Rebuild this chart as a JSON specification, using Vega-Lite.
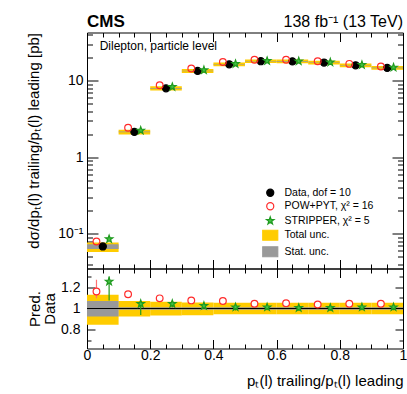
{
  "$schema": "https://vega.github.io/schema/vega-lite/v6.json",
  "background": "white",
  "padding": {"left": 26, "top": 11.5, "right": 0, "bottom": 0},
  "bounds": "flush",
  "config": {
    "font": "Liberation Sans",
    "view": {"stroke": "black", "strokeWidth": 1},
    "axis": {"domain": false, "grid": false, "labelFont": "Liberation Sans", "labelFontSize": 14, "labelColor": "black", "tickColor": "black", "tickWidth": 1, "titleFont": "Liberation Sans", "titleFontSize": 15, "titleFontWeight": "normal", "titleColor": "black", "labelFlush": false, "labelOverlap": false},
    "legend": {"labelFont": "Liberation Sans", "labelFontSize": 10.5, "labelColor": "black", "symbolStrokeWidth": 1.2, "symbolSize": 50, "labelOffset": 9, "rowPadding": 0.5, "padding": 0}
  },
  "datasets": {
    "bins": [
      {"lo": 0.0, "hi": 0.1, "xc": 0.05, "xp": 0.03, "xs": 0.07, "data": 0.068, "tot_lo": 0.0577, "tot_hi": 0.0768, "stat_lo": 0.0628, "stat_hi": 0.0728, "pow": 0.079, "strip": 0.085, "r_tot_lo": 0.848, "r_tot_hi": 1.13, "r_stat_lo": 0.924, "r_stat_hi": 1.07, "r_pow": 1.16, "r_pow_lo": 1.095, "r_pow_hi": 1.27, "r_strip": 1.253, "r_strip_lo": 1.076, "r_strip_hi": 1.3},
      {"lo": 0.1, "hi": 0.2, "xc": 0.15, "xp": 0.13, "xs": 0.17, "data": 2.15, "tot_lo": 1.99, "tot_hi": 2.30, "stat_lo": 2.124, "stat_hi": 2.176, "pow": 2.44, "strip": 2.24, "r_tot_lo": 0.925, "r_tot_hi": 1.07, "r_stat_lo": 0.988, "r_stat_hi": 1.012, "r_pow": 1.133, "r_pow_lo": 1.118, "r_pow_hi": 1.148, "r_strip": 1.044, "r_strip_lo": 0.94, "r_strip_hi": 1.07},
      {"lo": 0.2, "hi": 0.3, "xc": 0.25, "xp": 0.23, "xs": 0.27, "data": 8.0, "tot_lo": 7.48, "tot_hi": 8.5, "stat_lo": 7.92, "stat_hi": 8.08, "pow": 8.76, "strip": 8.35, "r_tot_lo": 0.935, "r_tot_hi": 1.063, "r_stat_lo": 0.988, "r_stat_hi": 1.012, "r_pow": 1.095, "r_pow_lo": 1.081, "r_pow_hi": 1.109, "r_strip": 1.044, "r_strip_lo": 1.012, "r_strip_hi": 1.076},
      {"lo": 0.3, "hi": 0.4, "xc": 0.35, "xp": 0.33, "xs": 0.37, "data": 13.5, "tot_lo": 12.65, "tot_hi": 14.27, "stat_lo": 13.38, "stat_hi": 13.62, "pow": 14.5, "strip": 13.85, "r_tot_lo": 0.937, "r_tot_hi": 1.057, "r_stat_lo": 0.988, "r_stat_hi": 1.012, "r_pow": 1.076, "r_pow_lo": 1.063, "r_pow_hi": 1.089, "r_strip": 1.025, "r_strip_lo": 0.995, "r_strip_hi": 1.055},
      {"lo": 0.4, "hi": 0.5, "xc": 0.45, "xp": 0.43, "xs": 0.47, "data": 16.5, "tot_lo": 15.6, "tot_hi": 17.4, "stat_lo": 16.35, "stat_hi": 16.65, "pow": 17.65, "strip": 16.7, "r_tot_lo": 0.945, "r_tot_hi": 1.055, "r_stat_lo": 0.988, "r_stat_hi": 1.012, "r_pow": 1.07, "r_pow_lo": 1.058, "r_pow_hi": 1.082, "r_strip": 1.012, "r_strip_lo": 0.982, "r_strip_hi": 1.042},
      {"lo": 0.5, "hi": 0.6, "xc": 0.55, "xp": 0.53, "xs": 0.57, "data": 18.1, "tot_lo": 17.1, "tot_hi": 19.1, "stat_lo": 17.93, "stat_hi": 18.27, "pow": 18.9, "strip": 18.3, "r_tot_lo": 0.945, "r_tot_hi": 1.055, "r_stat_lo": 0.988, "r_stat_hi": 1.012, "r_pow": 1.044, "r_pow_lo": 1.033, "r_pow_hi": 1.055, "r_strip": 1.012, "r_strip_lo": 0.984, "r_strip_hi": 1.04},
      {"lo": 0.6, "hi": 0.7, "xc": 0.65, "xp": 0.63, "xs": 0.67, "data": 18.0, "tot_lo": 17.0, "tot_hi": 19.0, "stat_lo": 17.83, "stat_hi": 18.17, "pow": 18.9, "strip": 18.1, "r_tot_lo": 0.945, "r_tot_hi": 1.055, "r_stat_lo": 0.988, "r_stat_hi": 1.012, "r_pow": 1.05, "r_pow_lo": 1.039, "r_pow_hi": 1.061, "r_strip": 1.006, "r_strip_lo": 0.978, "r_strip_hi": 1.034},
      {"lo": 0.7, "hi": 0.8, "xc": 0.75, "xp": 0.73, "xs": 0.77, "data": 17.4, "tot_lo": 16.45, "tot_hi": 18.35, "stat_lo": 17.24, "stat_hi": 17.56, "pow": 18.06, "strip": 17.5, "r_tot_lo": 0.945, "r_tot_hi": 1.055, "r_stat_lo": 0.988, "r_stat_hi": 1.012, "r_pow": 1.038, "r_pow_lo": 1.027, "r_pow_hi": 1.049, "r_strip": 1.006, "r_strip_lo": 0.978, "r_strip_hi": 1.034},
      {"lo": 0.8, "hi": 0.9, "xc": 0.85, "xp": 0.83, "xs": 0.87, "data": 16.0, "tot_lo": 15.12, "tot_hi": 16.88, "stat_lo": 15.85, "stat_hi": 16.15, "pow": 16.7, "strip": 16.2, "r_tot_lo": 0.945, "r_tot_hi": 1.055, "r_stat_lo": 0.988, "r_stat_hi": 1.012, "r_pow": 1.044, "r_pow_lo": 1.033, "r_pow_hi": 1.055, "r_strip": 1.012, "r_strip_lo": 0.984, "r_strip_hi": 1.04},
      {"lo": 0.9, "hi": 1.0, "xc": 0.95, "xp": 0.93, "xs": 0.97, "data": 14.8, "tot_lo": 13.99, "tot_hi": 15.61, "stat_lo": 14.66, "stat_hi": 14.94, "pow": 15.45, "strip": 15.0, "r_tot_lo": 0.945, "r_tot_hi": 1.055, "r_stat_lo": 0.988, "r_stat_hi": 1.012, "r_pow": 1.044, "r_pow_lo": 1.033, "r_pow_hi": 1.055, "r_strip": 1.012, "r_strip_lo": 0.984, "r_strip_hi": 1.04}
    ],
    "labels": [
      {"cms": "CMS", "lumi": "138 fb⁻¹ (13 TeV)", "info": "Dilepton, particle level"}
    ]
  },
  "resolve": {"scale": {"fill": "independent", "stroke": "independent", "shape": "independent"}},
  "spacing": 0,
  "vconcat": [
    {
      "width": 316,
      "height": 236,
      "data": {"name": "bins"},
      "resolve": {"axis": {"x": "independent", "y": "independent"}},
      "layer": [
        {
          "mark": {"type": "rect", "clip": true},
          "encoding": {
            "x": {"field": "lo", "type": "quantitative", "scale": {"domain": [0, 1], "nice": false, "zero": false},
              "axis": {"orient": "bottom", "values": [0, 0.05, 0.1, 0.15, 0.2, 0.25, 0.3, 0.35, 0.4, 0.45, 0.5, 0.55, 0.6, 0.65, 0.7, 0.75, 0.8, 0.85, 0.9, 0.95, 1], "labels": false, "title": null,
                "tickSize": {"condition": {"test": "abs(datum.value*5-round(datum.value*5))<0.001", "value": -9}, "value": -4.5}}},
            "x2": {"field": "hi"},
            "y": {"field": "tot_lo", "type": "quantitative", "scale": {"type": "log", "domain": [0.035, 43], "nice": false},
              "axis": {"orient": "left", "values": [0.04, 0.05, 0.06, 0.07, 0.08, 0.09, 0.1, 0.2, 0.3, 0.4, 0.5, 0.6, 0.7, 0.8, 0.9, 1, 2, 3, 4, 5, 6, 7, 8, 9, 10, 20, 30, 40],
                "labelExpr": "datum.value == 10 ? '10' : datum.value == 1 ? '1' : datum.value == 0.1 ? '10⁻¹' : ''",
                "labelPadding": 15,
                "tickSize": {"condition": {"test": "datum.value == 0.1 || datum.value == 1 || datum.value == 10", "value": -11}, "value": -5.5},
                "title": "dσ/dpₜ(l) trailing/pₜ(l) leading [pb]", "titleAnchor": "end", "titlePadding": 16}},
            "y2": {"field": "tot_hi"},
            "fill": {"datum": "Total unc.", "type": "nominal",
              "scale": {"domain": ["Data, dof = 10", "POW+PYT, χ² = 16", "STRIPPER, χ² = 5", "Total unc.", "Stat. unc."], "range": ["black", "transparent", "#44c444", "#ffcc00", "#999999"]},
              "legend": {"title": null, "orient": "none", "legendX": 178, "legendY": 155}}
          }
        },
        {
          "mark": {"type": "rect", "clip": true},
          "encoding": {
            "x": {"field": "lo", "type": "quantitative", "axis": null},
            "x2": {"field": "hi"},
            "y": {"field": "stat_lo", "type": "quantitative", "axis": null},
            "y2": {"field": "stat_hi"},
            "fill": {"datum": "Stat. unc.", "type": "nominal",
              "scale": {"domain": ["Data, dof = 10", "POW+PYT, χ² = 16", "STRIPPER, χ² = 5", "Total unc.", "Stat. unc."], "range": ["black", "transparent", "#44c444", "#ffcc00", "#999999"]},
              "legend": {"title": null, "orient": "none", "legendX": 178, "legendY": 155}}
          }
        },
        {
          "mark": {"type": "rule", "color": "black", "strokeWidth": 1, "clip": true},
          "encoding": {
            "x": {"field": "xc", "type": "quantitative",
              "axis": {"orient": "top", "values": [0, 0.05, 0.1, 0.15, 0.2, 0.25, 0.3, 0.35, 0.4, 0.45, 0.5, 0.55, 0.6, 0.65, 0.7, 0.75, 0.8, 0.85, 0.9, 0.95, 1], "labels": false, "title": null,
                "tickSize": {"condition": {"test": "abs(datum.value*5-round(datum.value*5))<0.001", "value": -9}, "value": -4.5}}},
            "y": {"field": "stat_lo", "type": "quantitative",
              "axis": {"orient": "right", "values": [0.04, 0.05, 0.06, 0.07, 0.08, 0.09, 0.1, 0.2, 0.3, 0.4, 0.5, 0.6, 0.7, 0.8, 0.9, 1, 2, 3, 4, 5, 6, 7, 8, 9, 10, 20, 30, 40], "labels": false, "title": null,
                "tickSize": {"condition": {"test": "datum.value == 0.1 || datum.value == 1 || datum.value == 10", "value": -11}, "value": -5.5}}},
            "y2": {"field": "stat_hi"}
          }
        },
        {
          "mark": {"type": "point", "opacity": 1, "strokeWidth": 1.2, "size": 50, "clip": true},
          "encoding": {
            "x": {"field": "xc", "type": "quantitative", "axis": null},
            "y": {"field": "data", "type": "quantitative", "axis": null},
            "fill": {"datum": "Data, dof = 10", "type": "nominal",
              "scale": {"domain": ["Data, dof = 10", "POW+PYT, χ² = 16", "STRIPPER, χ² = 5", "Total unc.", "Stat. unc."], "range": ["black", "transparent", "#44c444", "#ffcc00", "#999999"]},
              "legend": {"title": null, "orient": "none", "legendX": 178, "legendY": 155}},
            "stroke": {"datum": "Data, dof = 10", "type": "nominal",
              "scale": {"domain": ["Data, dof = 10", "POW+PYT, χ² = 16", "STRIPPER, χ² = 5", "Total unc.", "Stat. unc."], "range": ["black", "#ff2a2a", "#1f9a1f", "#ffcc00", "#999999"]},
              "legend": {"title": null, "orient": "none", "legendX": 178, "legendY": 155}},
            "shape": {"datum": "Data, dof = 10", "type": "nominal",
              "scale": {"domain": ["Data, dof = 10", "POW+PYT, χ² = 16", "STRIPPER, χ² = 5", "Total unc.", "Stat. unc."], "range": ["circle", "circle", "M0,-1.1L0.259,-0.356L1.046,-0.34L0.418,0.136L0.647,0.89L0,0.44L-0.647,0.89L-0.418,0.136L-1.046,-0.34L-0.259,-0.356Z", "M-2.12,-1.41L2.12,-1.41L2.12,1.41L-2.12,1.41Z", "M-2.12,-1.41L2.12,-1.41L2.12,1.41L-2.12,1.41Z"]},
              "legend": {"title": null, "orient": "none", "legendX": 178, "legendY": 155}}
          }
        },
        {
          "mark": {"type": "point", "opacity": 1, "strokeWidth": 1.2, "size": 45, "clip": true},
          "encoding": {
            "x": {"field": "xp", "type": "quantitative", "axis": null},
            "y": {"field": "pow", "type": "quantitative", "axis": null},
            "fill": {"datum": "POW+PYT, χ² = 16", "type": "nominal",
              "scale": {"domain": ["Data, dof = 10", "POW+PYT, χ² = 16", "STRIPPER, χ² = 5", "Total unc.", "Stat. unc."], "range": ["black", "transparent", "#44c444", "#ffcc00", "#999999"]},
              "legend": {"title": null, "orient": "none", "legendX": 178, "legendY": 155}},
            "stroke": {"datum": "POW+PYT, χ² = 16", "type": "nominal",
              "scale": {"domain": ["Data, dof = 10", "POW+PYT, χ² = 16", "STRIPPER, χ² = 5", "Total unc.", "Stat. unc."], "range": ["black", "#ff2a2a", "#1f9a1f", "#ffcc00", "#999999"]},
              "legend": {"title": null, "orient": "none", "legendX": 178, "legendY": 155}},
            "shape": {"datum": "POW+PYT, χ² = 16", "type": "nominal",
              "scale": {"domain": ["Data, dof = 10", "POW+PYT, χ² = 16", "STRIPPER, χ² = 5", "Total unc.", "Stat. unc."], "range": ["circle", "circle", "M0,-1.1L0.259,-0.356L1.046,-0.34L0.418,0.136L0.647,0.89L0,0.44L-0.647,0.89L-0.418,0.136L-1.046,-0.34L-0.259,-0.356Z", "M-2.12,-1.41L2.12,-1.41L2.12,1.41L-2.12,1.41Z", "M-2.12,-1.41L2.12,-1.41L2.12,1.41L-2.12,1.41Z"]},
              "legend": {"title": null, "orient": "none", "legendX": 178, "legendY": 155}}
          }
        },
        {
          "mark": {"type": "point", "opacity": 1, "strokeWidth": 1.2, "size": 50, "clip": true},
          "encoding": {
            "x": {"field": "xs", "type": "quantitative", "axis": null},
            "y": {"field": "strip", "type": "quantitative", "axis": null},
            "fill": {"datum": "STRIPPER, χ² = 5", "type": "nominal",
              "scale": {"domain": ["Data, dof = 10", "POW+PYT, χ² = 16", "STRIPPER, χ² = 5", "Total unc.", "Stat. unc."], "range": ["black", "transparent", "#44c444", "#ffcc00", "#999999"]},
              "legend": {"title": null, "orient": "none", "legendX": 178, "legendY": 155}},
            "stroke": {"datum": "STRIPPER, χ² = 5", "type": "nominal",
              "scale": {"domain": ["Data, dof = 10", "POW+PYT, χ² = 16", "STRIPPER, χ² = 5", "Total unc.", "Stat. unc."], "range": ["black", "#ff2a2a", "#1f9a1f", "#ffcc00", "#999999"]},
              "legend": {"title": null, "orient": "none", "legendX": 178, "legendY": 155}},
            "shape": {"datum": "STRIPPER, χ² = 5", "type": "nominal",
              "scale": {"domain": ["Data, dof = 10", "POW+PYT, χ² = 16", "STRIPPER, χ² = 5", "Total unc.", "Stat. unc."], "range": ["circle", "circle", "M0,-1.1L0.259,-0.356L1.046,-0.34L0.418,0.136L0.647,0.89L0,0.44L-0.647,0.89L-0.418,0.136L-1.046,-0.34L-0.259,-0.356Z", "M-2.12,-1.41L2.12,-1.41L2.12,1.41L-2.12,1.41Z", "M-2.12,-1.41L2.12,-1.41L2.12,1.41L-2.12,1.41Z"]},
              "legend": {"title": null, "orient": "none", "legendX": 178, "legendY": 155}}
          }
        },
        {
          "data": {"name": "labels"},
          "mark": {"type": "text", "align": "left", "baseline": "middle", "fontSize": 12, "font": "Liberation Sans", "color": "black"},
          "encoding": {
            "x": {"datum": 0.04, "type": "quantitative", "axis": null},
            "y": {"datum": 28.5, "type": "quantitative", "axis": null},
            "text": {"field": "info"}
          }
        },
        {
          "data": {"name": "labels"},
          "mark": {"type": "text", "align": "left", "baseline": "alphabetic", "dy": -6, "fontSize": 17, "fontWeight": "bold", "font": "Liberation Sans", "color": "black"},
          "encoding": {
            "x": {"datum": 0, "type": "quantitative", "axis": null},
            "y": {"datum": 43, "type": "quantitative", "axis": null},
            "text": {"field": "cms"}
          }
        },
        {
          "data": {"name": "labels"},
          "mark": {"type": "text", "align": "right", "baseline": "alphabetic", "dy": -6, "fontSize": 16, "font": "Liberation Sans", "color": "black"},
          "encoding": {
            "x": {"datum": 1, "type": "quantitative", "axis": null},
            "y": {"datum": 43, "type": "quantitative", "axis": null},
            "text": {"field": "lumi"}
          }
        }
      ]
    },
    {
      "width": 316,
      "height": 80,
      "data": {"name": "bins"},
      "resolve": {"axis": {"x": "independent", "y": "independent"}},
      "layer": [
        {
          "mark": {"type": "rect", "clip": true, "color": "#ffcc00"},
          "encoding": {
            "x": {"field": "lo", "type": "quantitative", "scale": {"domain": [0, 1], "nice": false, "zero": false},
              "axis": {"orient": "bottom", "values": [0, 0.05, 0.1, 0.15, 0.2, 0.25, 0.3, 0.35, 0.4, 0.45, 0.5, 0.55, 0.6, 0.65, 0.7, 0.75, 0.8, 0.85, 0.9, 0.95, 1],
                "labelExpr": "abs(datum.value*5-round(datum.value*5))<0.001 ? toString(round(datum.value*10)/10) : ''",
                "labelPadding": 9,
                "tickSize": {"condition": {"test": "abs(datum.value*5-round(datum.value*5))<0.001", "value": -9}, "value": -4.5},
                "title": "pₜ(l) trailing/pₜ(l) leading", "titleAnchor": "end", "titlePadding": 6}},
            "x2": {"field": "hi"},
            "y": {"field": "r_tot_lo", "type": "quantitative", "scale": {"domain": [0.625, 1.375], "nice": false, "zero": false},
              "axis": {"orient": "left", "values": [0.7, 0.8, 0.9, 1, 1.1, 1.2, 1.3],
                "labelExpr": "datum.value == 0.8 ? '0.8' : datum.value == 1 ? '1' : datum.value == 1.2 ? '1.2' : ''",
                "labelPadding": 15,
                "tickSize": {"condition": {"test": "datum.value == 0.8 || datum.value == 1 || datum.value == 1.2", "value": -8}, "value": -4},
                "title": ["Pred.", "Data"], "titleAnchor": "middle", "titlePadding": 3, "titleLineHeight": 15}},
            "y2": {"field": "r_tot_hi"}
          }
        },
        {
          "mark": {"type": "rect", "clip": true, "color": "#999999"},
          "encoding": {
            "x": {"field": "lo", "type": "quantitative", "axis": null},
            "x2": {"field": "hi"},
            "y": {"field": "r_stat_lo", "type": "quantitative", "axis": null},
            "y2": {"field": "r_stat_hi"}
          }
        },
        {
          "mark": {"type": "rule", "color": "black", "strokeWidth": 1},
          "encoding": {
            "y": {"datum": 1, "type": "quantitative",
              "axis": {"orient": "right", "values": [0.7, 0.8, 0.9, 1, 1.1, 1.2, 1.3], "labels": false, "title": null,
                "tickSize": {"condition": {"test": "datum.value == 0.8 || datum.value == 1 || datum.value == 1.2", "value": -8}, "value": -4}}}
          }
        },
        {
          "mark": {"type": "rule", "color": "#ff7070", "strokeWidth": 1.2, "clip": true},
          "encoding": {
            "x": {"field": "xp", "type": "quantitative",
              "axis": {"orient": "top", "values": [0, 0.05, 0.1, 0.15, 0.2, 0.25, 0.3, 0.35, 0.4, 0.45, 0.5, 0.55, 0.6, 0.65, 0.7, 0.75, 0.8, 0.85, 0.9, 0.95, 1], "labels": false, "title": null,
                "tickSize": {"condition": {"test": "abs(datum.value*5-round(datum.value*5))<0.001", "value": -9}, "value": -4.5}}},
            "y": {"field": "r_pow_lo", "type": "quantitative", "axis": null},
            "y2": {"field": "r_pow_hi"}
          }
        },
        {
          "mark": {"type": "point", "opacity": 1, "strokeWidth": 1.2, "size": 45, "shape": "circle", "filled": false, "color": "#ff2a2a", "fill": "white", "clip": true},
          "encoding": {
            "x": {"field": "xp", "type": "quantitative", "axis": null},
            "y": {"field": "r_pow", "type": "quantitative", "axis": null}
          }
        },
        {
          "mark": {"type": "rule", "color": "#1f9a1f", "strokeWidth": 1.2, "clip": true},
          "encoding": {
            "x": {"field": "xs", "type": "quantitative", "axis": null},
            "y": {"field": "r_strip_lo", "type": "quantitative", "axis": null},
            "y2": {"field": "r_strip_hi"}
          }
        },
        {
          "mark": {"type": "point", "opacity": 1, "strokeWidth": 1.2, "size": 50, "shape": "M0,-1.1L0.259,-0.356L1.046,-0.34L0.418,0.136L0.647,0.89L0,0.44L-0.647,0.89L-0.418,0.136L-1.046,-0.34L-0.259,-0.356Z", "filled": true, "fill": "#44c444", "stroke": "#1f9a1f", "clip": true},
          "encoding": {
            "x": {"field": "xs", "type": "quantitative", "axis": null},
            "y": {"field": "r_strip", "type": "quantitative", "axis": null}
          }
        }
      ]
    }
  ]
}
